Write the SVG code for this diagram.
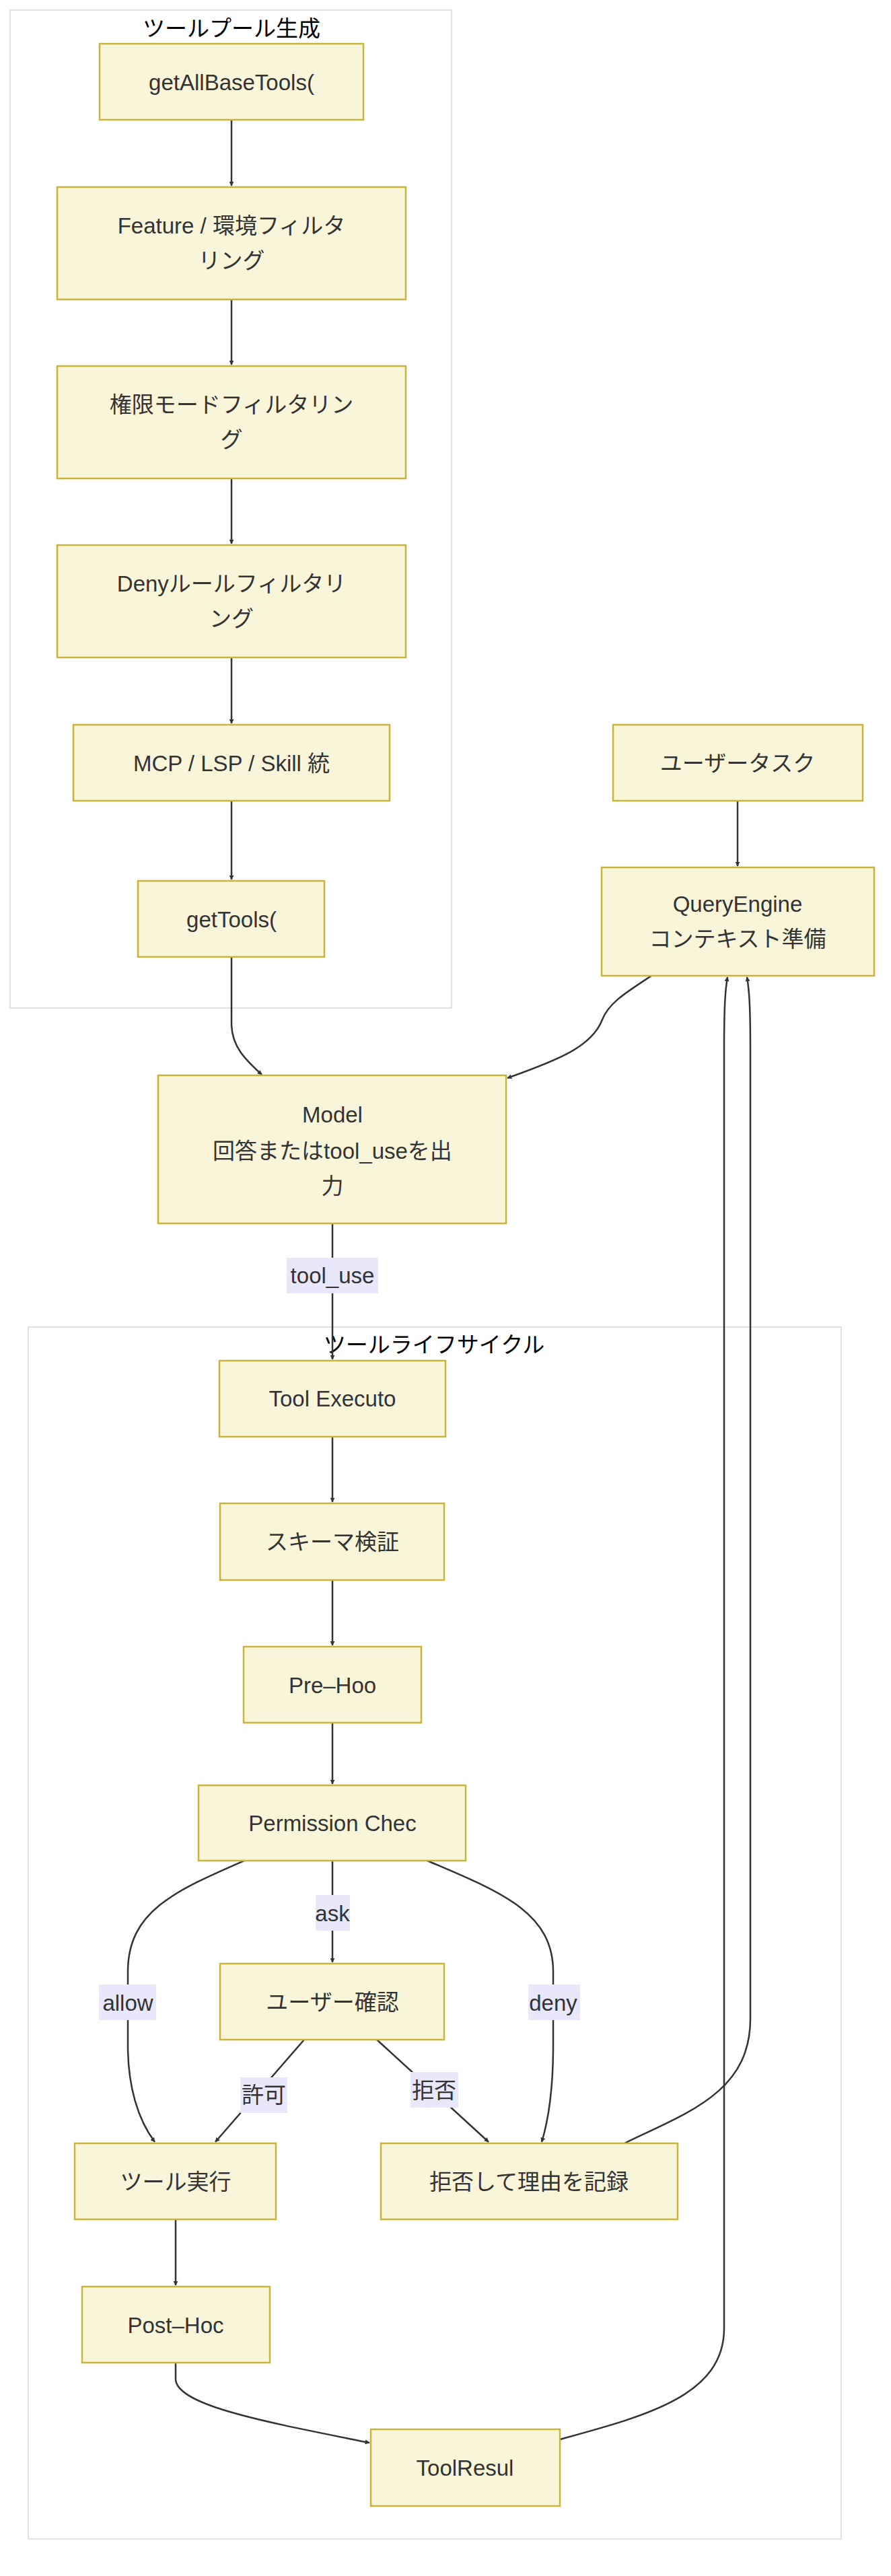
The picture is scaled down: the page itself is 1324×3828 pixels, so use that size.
<svg xmlns="http://www.w3.org/2000/svg" width="1324" height="3828" viewBox="0 0 1324 3828">
<style>
text{font-family:"Liberation Sans","Noto Sans CJK JP",sans-serif;font-size:33px;fill:#333;text-anchor:middle;dominant-baseline:central}
.t{fill:#000}
.c{fill:#fff;stroke:#e2e2e2;stroke-width:2}
.n rect{fill:#f9f5d8;stroke:#c9b53b;stroke-width:2.5}
.e path{fill:none;stroke:#333;stroke-width:2.5;marker-end:url(#a)}
.l rect{fill:#e9e7fa}
</style>
<defs><marker id="a" viewBox="0 0 10 10" refX="9" refY="5" markerWidth="7" markerHeight="7" orient="auto-start-reverse" markerUnits="userSpaceOnUse"><path d="M0,0L10,5L0,10z" fill="#333"/></marker></defs>
<g id="cluster-pool"><rect class="c" x="15" y="15" width="656" height="1483"/><text class="t" x="344" y="42">ツールプール生成</text></g>
<g id="cluster-life"><rect class="c" x="42" y="1972" width="1208" height="1801"/><text class="t" x="645" y="1998">ツールライフサイクル</text></g>
<g class="e" id="edges">
<path d="M344,178V276"/>
<path d="M344,445V542"/>
<path d="M344,711V808"/>
<path d="M344,977V1075"/>
<path d="M344,1190V1307"/>
<path d="M1096,1190V1287"/>
<path d="M344,1422V1521C344,1555 365,1575 389,1597"/>
<path d="M968,1450C930,1475 905,1490 895,1515C880,1555 830,1575 754,1602"/>
<path d="M494,1818V2020"/>
<path d="M494,2135V2232"/>
<path d="M494,2348V2445"/>
<path d="M494,2560V2651"/>
<path d="M494,2765V2916"/>
<path d="M363,2765C260,2810 190,2840 190,2930V3040C190,3100 205,3150 230,3183"/>
<path d="M635,2765C740,2810 822,2840 822,2930V3040C822,3100 815,3150 805,3183"/>
<path d="M452,3031L320,3183"/>
<path d="M560,3031L726,3183"/>
<path d="M261,3298V3396"/>
<path d="M261,3511V3535C261,3575 400,3600 549,3630"/>
<path d="M832,3625C960,3590 1076,3560 1076,3460V1560C1076,1490 1078,1470 1081,1452"/>
<path d="M928,3185C1020,3140 1115,3110 1115,3000V1560C1115,1490 1113,1470 1110,1452"/>
</g>
<g class="l" id="edge-labels">
<rect x="426" y="1869" width="136" height="53"/><text x="494" y="1895">tool_use</text>
<rect x="469" y="2816" width="51" height="53"/><text x="494" y="2843">ask</text>
<rect x="147" y="2949" width="85" height="53"/><text x="190" y="2976">allow</text>
<rect x="785" y="2949" width="77" height="53"/><text x="822" y="2976">deny</text>
<rect x="357" y="3087" width="70" height="53"/><text x="392" y="3113">許可</text>
<rect x="610" y="3079" width="71" height="53"/><text x="645" y="3106">拒否</text>
</g>
<g class="n" id="getAllBaseTools"><rect x="148" y="65" width="392" height="113"/><text x="344" y="122">getAllBaseTools(</text></g>
<g class="n" id="feature"><rect x="85" y="278" width="518" height="167"/><text x="344" y="335">Feature / 環境フィルタ</text><text x="344" y="387">リング</text></g>
<g class="n" id="perm-mode"><rect x="85" y="544" width="518" height="167"/><text x="344" y="601">権限モードフィルタリン</text><text x="344" y="653">グ</text></g>
<g class="n" id="deny-rule"><rect x="85" y="810" width="518" height="167"/><text x="344" y="867">Denyルールフィルタリ</text><text x="344" y="919">ング</text></g>
<g class="n" id="mcp"><rect x="109" y="1077" width="470" height="113"/><text x="344" y="1134">MCP / LSP / Skill 統</text></g>
<g class="n" id="getTools"><rect x="205" y="1309" width="277" height="113"/><text x="344" y="1366">getTools(</text></g>
<g class="n" id="user-task"><rect x="911" y="1077" width="371" height="113"/><text x="1096" y="1134">ユーザータスク</text></g>
<g class="n" id="query-engine"><rect x="894" y="1289" width="405" height="161"/><text x="1096" y="1343">QueryEngine</text><text x="1096" y="1395">コンテキスト準備</text></g>
<g class="n" id="model"><rect x="235" y="1598" width="517" height="220"/><text x="494" y="1656">Model</text><text x="494" y="1710">回答またはtool_useを出</text><text x="494" y="1762">力</text></g>
<g class="n" id="tool-executor"><rect x="326" y="2022" width="336" height="113"/><text x="494" y="2078">Tool Executo</text></g>
<g class="n" id="schema"><rect x="327" y="2234" width="333" height="114"/><text x="494" y="2291">スキーマ検証</text></g>
<g class="n" id="pre-hook"><rect x="362" y="2447" width="264" height="113"/><text x="494" y="2504">Pre–Hoo</text></g>
<g class="n" id="permission"><rect x="295" y="2653" width="397" height="112"/><text x="494" y="2709">Permission Chec</text></g>
<g class="n" id="user-confirm"><rect x="327" y="2918" width="333" height="113"/><text x="494" y="2975">ユーザー確認</text></g>
<g class="n" id="tool-run"><rect x="111" y="3185" width="299" height="113"/><text x="261" y="3242">ツール実行</text></g>
<g class="n" id="reject"><rect x="566" y="3185" width="441" height="113"/><text x="786" y="3242">拒否して理由を記録</text></g>
<g class="n" id="post-hook"><rect x="122" y="3398" width="279" height="113"/><text x="261" y="3455">Post–Hoc</text></g>
<g class="n" id="tool-result"><rect x="551" y="3610" width="281" height="114"/><text x="691" y="3667">ToolResul</text></g>
</svg>
